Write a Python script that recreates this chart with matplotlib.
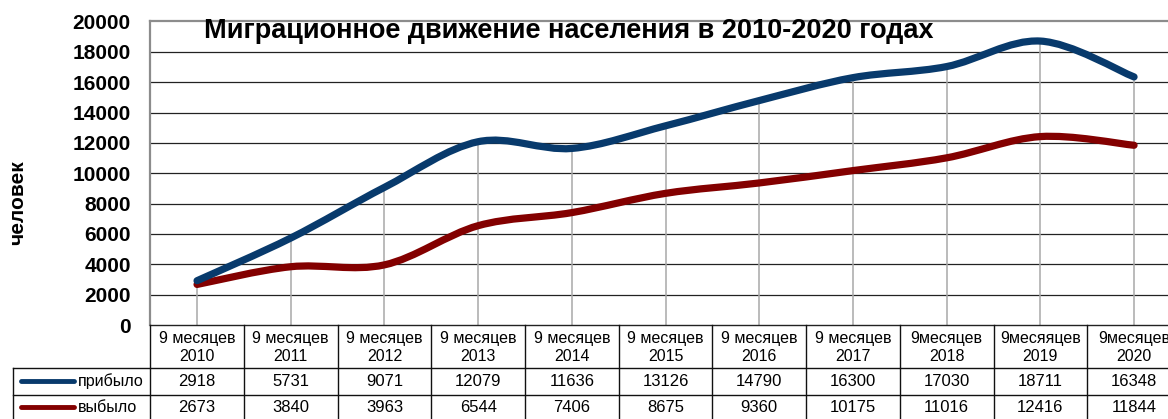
import matplotlib
matplotlib.use("Agg")
import matplotlib.pyplot as plt
from matplotlib.path import Path
from matplotlib.patches import PathPatch
from matplotlib.lines import Line2D
import matplotlib.transforms as mtransforms
import numpy as np

plt.rcParams["font.family"] = ["Liberation Sans", "DejaVu Sans"]

years = ["2010", "2011", "2012", "2013", "2014", "2015", "2016", "2017", "2018", "2019", "2020"]
prefixes = ["9 месяцев"] * 8 + ["9месяцев", "9месяяцев", "9месяцев"]
arrived = [2918, 5731, 9071, 12079, 11636, 13126, 14790, 16300, 17030, 18711, 16348]
departed = [2673, 3840, 3963, 6544, 7406, 8675, 9360, 10175, 11016, 12416, 11844]

blue = "#083a6c"
red = "#830000"

W, H = 1168, 419
fig = plt.figure(figsize=(W / 100, H / 100), dpi=100)

left_px, right_px = 150.2, 1180.9
top_px, bottom_px = 21.5, 325
ax = fig.add_axes([left_px / W, 1 - bottom_px / H, (right_px - left_px) / W, (bottom_px - top_px) / H])


def smooth_path(ys):
    # Excel-style smoothed line: cubic Bezier through points (Catmull-Rom)
    xs = np.arange(len(ys), dtype=float)
    pts = np.column_stack([xs, np.asarray(ys, dtype=float)])
    ext = np.vstack([pts[0], pts, pts[-1]])
    verts = [pts[0]]
    codes = [Path.MOVETO]
    for i in range(len(pts) - 1):
        p0, p1, p2, p3 = ext[i], ext[i + 1], ext[i + 2], ext[i + 3]
        c1 = p1 + (p2 - p0) / 6
        c2 = p2 - (p3 - p1) / 6
        verts += [c1, c2, p2]
        codes += [Path.CURVE4] * 3
    return Path(verts, codes)


x = np.arange(len(years))

# grid
for v in range(2000, 20000, 2000):
    ax.axhline(v, color="#222222", lw=0.9, zorder=1)
ax.vlines(x, 0, np.maximum(arrived, departed), color="#a8a8a8", lw=1.1, zorder=1)

ax.add_patch(PathPatch(smooth_path(departed), fill=False, edgecolor=red, lw=5.2,
                       capstyle="round", zorder=3))
ax.add_patch(PathPatch(smooth_path(arrived), fill=False, edgecolor=blue, lw=5.2,
                       capstyle="round", zorder=4))

ax.set_xlim(-0.5, len(years) - 0.5)
ax.set_ylim(0, 20000)
ax.set_yticks(range(0, 20001, 2000))
ax.set_yticklabels([str(v) for v in range(0, 20001, 2000)], fontsize=15, fontweight="bold")
ax.tick_params(axis="y", length=0, pad=14)
ax.set_xticks([])
for s in ["top", "left"]:
    ax.spines[s].set_color("#8c8c8c")
    ax.spines[s].set_linewidth(1.6)
ax.spines["right"].set_visible(False)
ax.spines["bottom"].set_color("#222222")
ax.spines["bottom"].set_linewidth(1.0)

fig.text(569 / W, 1 - 31 / H, "Миграционное движение населения в 2010-2020 годах",
         ha="center", va="center", fontsize=19.5, fontweight="bold")
fig.text(18 / W, 1 - 203 / H, "человек", rotation=90, ha="center", va="center",
         fontsize=15, fontweight="bold")

# data table
tr = mtransforms.blended_transform_factory(ax.transData, fig.transFigure)
ff = fig.transFigure
rows_px = [325, 367.5, 395, 419]
ry = [1 - r / H for r in rows_px]
lc = "#111111"
for yv in ry[1:3]:
    fig.add_artist(Line2D([13 / W, 1.02], [yv, yv], color=lc, lw=1.0, transform=ff))
fig.add_artist(Line2D([13 / W, 13 / W], [ry[1], ry[3]], color=lc, lw=1.0, transform=ff))
for i in range(len(years) + 1):
    fig.add_artist(Line2D([i - 0.5, i - 0.5], [ry[0], ry[3]], color=lc, lw=1.0, transform=tr))

for i, (p, yr) in enumerate(zip(prefixes, years)):
    fig.text(i, (ry[0] + ry[1]) / 2 - 0.003, p + "\n" + yr, transform=tr, ha="center",
             va="center", fontsize=11.5, linespacing=1.2)
    fig.text(i, (ry[1] + ry[2]) / 2, str(arrived[i]), transform=tr, ha="center", va="center",
             fontsize=12)
    fig.text(i, (ry[2] + ry[3]) / 2, str(departed[i]), transform=tr, ha="center", va="center",
             fontsize=12)

for (label, col), (ya, yb) in zip([("прибыло", blue), ("выбыло", red)],
                                   [(ry[1], ry[2]), (ry[2], ry[3])]):
    ym = (ya + yb) / 2
    fig.add_artist(Line2D([21 / W, 74 / W], [ym, ym], color=col, lw=3.5,
                          solid_capstyle="round", transform=ff))
    fig.text(78 / W, ym, label, ha="left", va="center", fontsize=11.5, transform=ff)

fig.savefig("out.png", dpi=100)
